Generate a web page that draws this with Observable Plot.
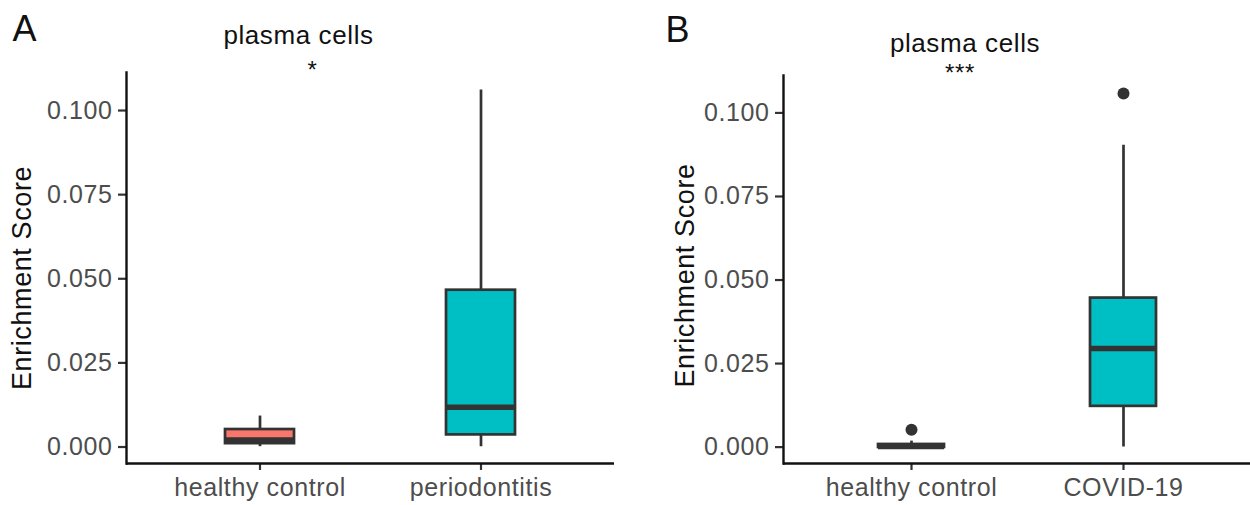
<!DOCTYPE html>
<html>
<head>
<meta charset="utf-8">
<script src="https://cdn.jsdelivr.net/npm/d3@7"></script>
<script src="https://cdn.jsdelivr.net/npm/@observablehq/plot@0.6"></script>
<style>
  html, body { margin: 0; padding: 0; background: #fff; }
  #wrap { display: flex; width: 1250px; height: 505px; overflow: hidden; }
  #wrap svg { display: block; flex: none; }
  #wrap svg text { letter-spacing: 0.6px; }
</style>
</head>
<body>
<div id="wrap"></div>
<script>
// ---------- Panel A: healthy control vs periodontitis ----------
const aLetter = "A";
const aTitle = "plasma cells";
const aSig = "*";
const aGroups = ["healthy control", "periodontitis"];
const aLow  = [0.0001, 0.0001];
const aQ1   = [0.0010, 0.0036];
const aMed  = [0.0021, 0.0118];
const aQ3   = [0.0052, 0.0466];
const aHigh = [0.0092, 0.1061];
const aOutGroup = [];
const aOutValue = [];

// ---------- Panel B: healthy control vs COVID-19 ----------
const bLetter = "B";
const bTitle = "plasma cells";
const bSig = "***";
const bGroups = ["healthy control", "COVID-19"];
const bLow  = [-0.0001, 0.0000];
const bQ1   = [-0.0001, 0.0122];
const bMed  = [0.0002, 0.0295];
const bQ3   = [0.0008, 0.0446];
const bHigh = [0.0018, 0.0903];
const bOutGroup = ["healthy control", "COVID-19"];
const bOutValue = [0.0052, 0.1058];

const yTicks = [0, 0.025, 0.05, 0.075, 0.1];
const yLabel = "Enrichment Score";
const groupColors = ["#F8766D", "#00BFC4"];

function panel(o) {
  const boxes = o.groups.map((g, i) => ({
    g, lo: o.low[i], q1: o.q1[i], med: o.med[i], q3: o.q3[i], hi: o.high[i]
  }));
  const outs = o.outGroup.map((g, i) => ({g, v: o.outValue[i]}));
  return Plot.plot({
    width: o.width, height: 505,
    marginLeft: o.ml, marginRight: o.mr, marginTop: o.mt, marginBottom: 42,
    style: {fontFamily: "'Liberation Sans', Arial, sans-serif", background: "#fff", overflow: "visible"},
    x: {domain: o.groups, paddingInner: 0.69, paddingOuter: 0.445, axis: null},
    y: {domain: o.yDomain, axis: null},
    color: {domain: o.groups, range: groupColors},
    marks: [
      Plot.ruleX(boxes, {x: "g", y1: "lo", y2: "hi", stroke: "#333", strokeWidth: 2.7}),
      Plot.barY(boxes, {x: "g", y1: "q1", y2: "q3", fill: "g", stroke: "#333", strokeWidth: 2.7}),
      Plot.tickY(boxes, {x: "g", y: "med", stroke: "#333", strokeWidth: 5.5}),
      Plot.dot(outs, {x: "g", y: "v", r: 6, fill: "#333", stroke: null}),
      Plot.axisY({ticks: yTicks, tickFormat: d3.format(".3f"), tickSize: 8, tickPadding: 6,
                  fontSize: 25, stroke: "#333", strokeWidth: 2.2, fill: "#4d4d4d", label: null}),
      Plot.axisX({tickSize: 7, tickPadding: 8, fontSize: 25, stroke: "#333", strokeWidth: 2.2,
                  fill: "#4d4d4d", label: null}),
      Plot.ruleY([o.yDomain[0]], {stroke: "#111", strokeWidth: 2.4}),
      Plot.frame({anchor: "left", stroke: "#111", strokeWidth: 2.4}),
      Plot.text([yLabel], {frameAnchor: "left", textAnchor: "middle", lineAnchor: "middle",
                           rotate: -90, dx: o.labelDx, dy: o.labelDy, fontSize: 27, fill: "#111"}),
      Plot.text([o.title], {frameAnchor: "top", lineAnchor: "middle", dx: o.titleDx, dy: o.titleDy, fontSize: 26, fill: "#111"}),
      Plot.text([o.sig], {frameAnchor: "top", lineAnchor: "middle", dx: o.sigDx, dy: o.sigDy, fontSize: 24, fill: "#111"}),
      Plot.text([o.letter], {frameAnchor: "top-left", textAnchor: "start", lineAnchor: "middle",
                             dx: o.letterDx, dy: o.letterDy, fontSize: 36, fill: "#111"})
    ]
  });
}

const wrap = document.getElementById("wrap");
wrap.append(panel({
  width: 625, ml: 126, mr: 11, mt: 72,
  groups: aGroups, low: aLow, q1: aQ1, med: aMed, q3: aQ3, high: aHigh,
  outGroup: aOutGroup, outValue: aOutValue,
  yDomain: [-0.0049, 0.1113],
  labelDx: -104, labelDy: 10, title: aTitle, titleDx: -72, titleDy: -37,
  sig: aSig, sigDx: -58, sigDy: -2,
  letter: aLetter, letterDx: -114, letterDy: -43
}));
wrap.append(panel({
  width: 625, ml: 158, mr: 0, mt: 75,
  groups: bGroups, low: bLow, q1: bQ1, med: bMed, q3: bQ3, high: bHigh,
  outGroup: bOutGroup, outValue: bOutValue,
  yDomain: [-0.0049, 0.1112],
  labelDx: -98, labelDy: 6, title: bTitle, titleDx: -52, titleDy: -32,
  sig: bSig, sigDx: -57, sigDy: -2,
  letter: bLetter, letterDx: -118, letterDy: -45
}));
</script>
</body>
</html>
